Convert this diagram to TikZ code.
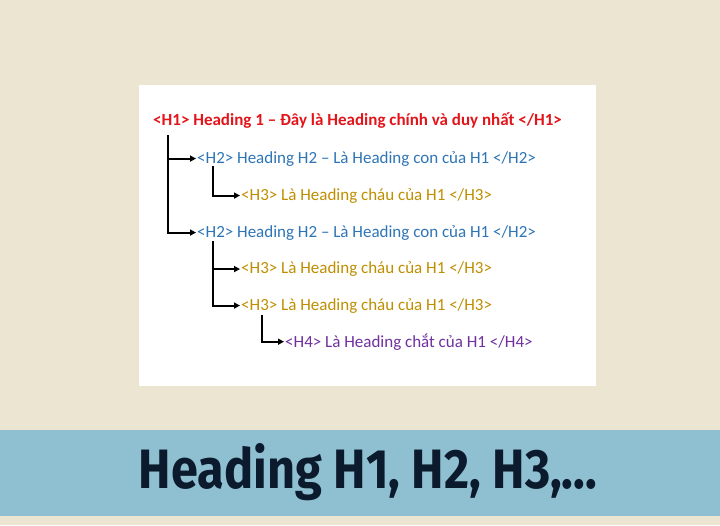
\documentclass[tikz,border=0pt]{standalone}
\usepackage{fontspec}
\setmainfont{Carlito}
\newfontfamily\titlefont{Fira Sans}
\usetikzlibrary{arrows.meta}
\definecolor{bg}{HTML}{ECE5D1}
\definecolor{band}{HTML}{8FC0D1}
\definecolor{navy}{HTML}{0B1A2C}
\definecolor{hone}{HTML}{E3151B}
\definecolor{htwo}{HTML}{2E75B6}
\definecolor{hthree}{HTML}{BF8F00}
\definecolor{hfour}{HTML}{7030A0}
\tikzset{
  lbl/.style={anchor=base west, inner sep=1pt, font=\fontsize{17}{20}\selectfont},
  conn/.style={line width=2pt, -{Triangle[length=6pt,width=6pt]}},
}
\begin{document}
\begin{tikzpicture}[x=1pt,y=-1pt]
\fill[bg] (0,0) rectangle (720,525);
\useasboundingbox (0,0) rectangle (720,525);
\fill[white] (139,85) rectangle (596,386);
\fill[band] (0,430) rectangle (720,516);
\node[anchor=center, inner sep=0pt, text=navy] (title) at (368,472)
  {\resizebox{458pt}{45pt}{\titlefont\bfseries Heading H1, H2, H3,...}};

\node[lbl, text=hone, font=\fontsize{17}{20}\selectfont\bfseries] (h1) at (152,125.5) {<H1> Heading 1 – Đây là Heading chính và duy nhất </H1>};
\node[lbl, text=htwo] (h2a) at (196,163) {<H2> Heading H2 – Là Heading con của H1 </H2>};
\node[lbl, text=hthree] (h3a) at (240,200) {<H3> Là Heading cháu của H1 </H3>};
\node[lbl, text=htwo] (h2b) at (196,237) {<H2> Heading H2 – Là Heading con của H1 </H2>};
\node[lbl, text=hthree] (h3b) at (240,273.5) {<H3> Là Heading cháu của H1 </H3>};
\node[lbl, text=hthree] (h3c) at (240,310) {<H3> Là Heading cháu của H1 </H3>};
\node[lbl, text=hfour] (h4) at (284,347) {<H4> Là Heading chắt của H1 </H4>};

\coordinate (v1) at (168,135);
\coordinate (v2) at (213,166);
\coordinate (v3) at (213,241);
\coordinate (v4) at (262,315);
\draw[conn] (v1) |- (h2a.west);
\draw[conn] (v1) |- (h2b.west);
\draw[conn] (v2) |- (h3a.west);
\draw[conn] (v3) |- (h3b.west);
\draw[conn] (v3) |- (h3c.west);
\draw[conn] (v4) |- (h4.west);
\end{tikzpicture}
\end{document}
